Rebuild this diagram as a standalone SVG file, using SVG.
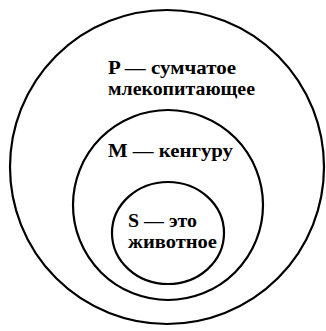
<svg xmlns="http://www.w3.org/2000/svg" width="326" height="331" viewBox="0 0 326 331">
<style>
.c{fill:none;stroke:#000;stroke-width:2.2}
</style>
<rect width="326" height="331" fill="#fff"/>
<g font-family="Liberation Serif, DejaVu Serif, serif" font-weight="bold" font-size="19" fill="#000">
<g id="P">
<circle class="c" cx="167" cy="167" r="157"/>
<text x="108" y="74" textLength="128" lengthAdjust="spacingAndGlyphs">P — сумчатое</text>
<text x="108" y="95" textLength="147" lengthAdjust="spacingAndGlyphs">млекопитающее</text>
</g>
<g id="M">
<circle class="c" cx="168" cy="205" r="95"/>
<text x="108" y="157" textLength="125" lengthAdjust="spacingAndGlyphs">M — кенгуру</text>
</g>
<g id="S">
<ellipse class="c" cx="168" cy="233" rx="56" ry="51"/>
<text x="128" y="227" textLength="69" lengthAdjust="spacingAndGlyphs">S — это</text>
<text x="128" y="248" textLength="89" lengthAdjust="spacingAndGlyphs">животное</text>
</g>
</g>
<g id="connectors"/>
</svg>
